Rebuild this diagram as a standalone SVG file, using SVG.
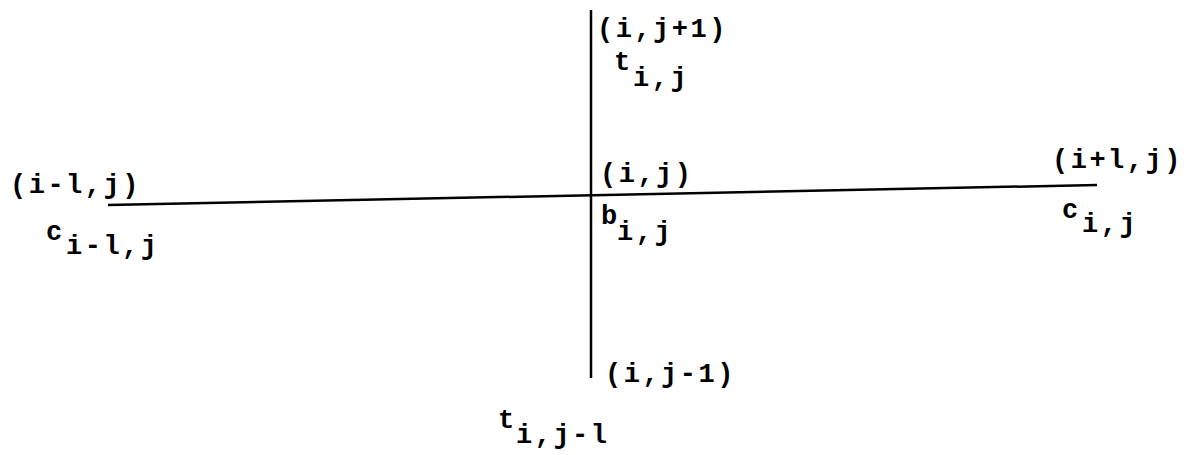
<svg xmlns="http://www.w3.org/2000/svg" width="1192" height="455" viewBox="0 0 1192 455">
<style>
text{font-family:"Liberation Mono","Courier New",monospace;font-size:27px;font-weight:bold;fill:#000;letter-spacing:2.5px}
.ln{stroke:#000;stroke-width:2.5;fill:none}
</style>
<rect width="1192" height="455" fill="#fff"/>
<g id="connectors">
<line class="ln" x1="108" y1="205" x2="1097" y2="185"/>
<line class="ln" x1="591" y1="10" x2="591" y2="378"/>
</g>
<g id="node-left">
<text x="10" y="193">(i-l,j)</text>
<text x="46" y="240">c</text>
<text x="66" y="254">i-l,j</text>
</g>
<g id="node-top">
<text x="597" y="37">(i,j+1)</text>
<text x="614" y="70">t</text>
<text x="633" y="86">i,j</text>
</g>
<g id="node-center">
<text x="600" y="182">(i,j)</text>
<text x="601" y="224">b</text>
<text x="617" y="240">i,j</text>
</g>
<g id="node-right">
<text x="1052" y="168">(i+l,j)</text>
<text x="1062" y="218">c</text>
<text x="1082" y="232">i,j</text>
</g>
<g id="node-bottom">
<text x="605" y="382">(i,j-1)</text>
<text x="498" y="428">t</text>
<text x="516" y="443">i,j-l</text>
</g>
</svg>
